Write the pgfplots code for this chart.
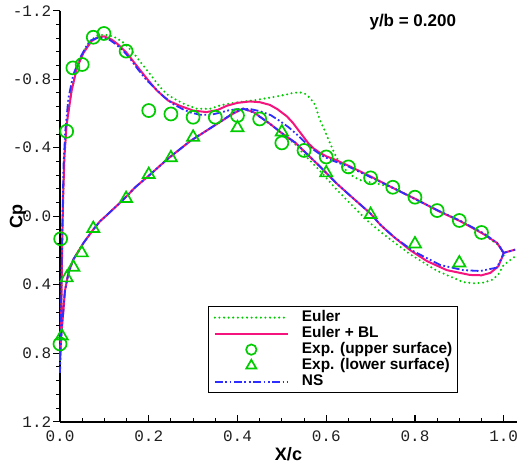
\documentclass[border=0pt]{standalone}
\usepackage{fontspec}
\setmainfont{Liberation Sans}
\newfontfamily\mono{Liberation Mono}
\usepackage{pgfplots}
\pgfplotsset{compat=1.18}
\definecolor{eg}{RGB}{0,204,0}
\definecolor{em}{RGB}{245,20,125}
\definecolor{eb}{RGB}{45,45,255}
\pgfplotsset{
  lineleg/.style={legend image code/.code={\draw[##1] (0pt,0pt) -- (73pt,0pt);}},
  circleg/.style={legend image code/.code={\draw[##1, mark size=5.2pt] plot coordinates {(36.5pt,0pt)};}},
  trileg/.style={legend image code/.code={\draw[##1, mark size=5.8pt] plot coordinates {(36.5pt,0pt)};}},
}
\begin{document}
\begin{tikzpicture}
\path[use as bounding box] (-60pt,-45.3pt) rectangle (459pt,421.7pt);
\begin{axis}[
  at={(0pt,0pt)}, anchor=south west,
  width=457pt, height=411pt, scale only axis,
  xmin=0, xmax=1.03, ymin=-1.2, ymax=1.2, y dir=reverse,
  clip=false,
  axis x line*=bottom, axis y line*=left,
  axis line style={line width=2.4pt, black, -},
  xtick={0,0.2,0.4,0.6,0.8,1.0}, xticklabels={0.0,0.2,0.4,0.6,0.8,1.0},
  ytick={-1.2,-0.8,-0.4,0,0.4,0.8,1.2}, yticklabels={-1.2,-0.8,-0.4,0.0,0.4,0.8,1.2},
  minor x tick num=3, minor y tick num=4,
  tick align=outside,
  major tick length=7pt, minor tick length=3.8pt,
  tick style={black, line width=1.3pt},
  minor tick style={line width=0.9pt},
  major x tick style={yshift=7pt},
  minor x tick style={yshift=3.8pt},
  ticklabel style={font=\mono\fontsize{16}{16}\selectfont, text=black!88, inner sep=1.5pt},
  xlabel={X/c}, ylabel={Cp},
  xlabel style={font=\bfseries\fontsize{18}{18}\selectfont, at={(axis description cs:0.5,0)}, anchor=base, yshift=-38.3pt},
  ylabel style={font=\bfseries\fontsize{18}{18}\selectfont, at={(axis description cs:-0.0919,0.5)}, anchor=center},
  legend style={at={(0.324,0.2815)}, anchor=north west, draw=black, line width=1.2pt,
    font=\bfseries\fontsize{15.4}{15.4}\selectfont, inner xsep=5pt, inner ysep=3pt,
    column sep=13pt, row sep=0pt,
    nodes={inner xsep=0pt, inner ysep=0pt, text height=11.5pt, text depth=4.5pt}},
  legend cell align=left,
]
\addplot[eg, line width=2.3pt, line cap=round, dash pattern=on 0pt off 4.6pt, lineleg] coordinates {
(1.0,0.23)(0.992,0.175)(0.97,0.136)(0.955,0.103)(0.90,0.025)(0.85,-0.035)(0.80,-0.10)(0.76,-0.155)(0.74,-0.175)(0.71,-0.193)(0.68,-0.208)(0.665,-0.225)(0.654,-0.245)(0.64,-0.28)(0.628,-0.32)(0.62,-0.36)(0.613,-0.40)(0.603,-0.46)(0.594,-0.516)(0.586,-0.56)(0.575,-0.65)(0.564,-0.69)(0.552,-0.715)(0.541,-0.723)(0.525,-0.72)(0.511,-0.711)(0.473,-0.692)(0.436,-0.676)(0.40,-0.665)(0.38,-0.657)(0.361,-0.647)(0.338,-0.627)(0.308,-0.628)(0.28,-0.655)(0.256,-0.688)(0.241,-0.712)(0.222,-0.765)(0.203,-0.83)(0.18,-0.905)(0.162,-0.965)(0.14,-1.02)(0.12,-1.05)(0.10,-1.06)(0.085,-1.055)(0.07,-1.03)(0.053,-0.96)(0.038,-0.87)(0.026,-0.735)(0.015,-0.54)(0.010,-0.35)(0.007,-0.1)(0.005,0.15)(0.0035,0.45)(0.002,0.68)(0.0,0.85)
(0.002,0.72)(0.0045,0.64)(0.0075,0.555)(0.011,0.438)(0.019,0.331)(0.030,0.253)(0.053,0.156)(0.075,0.078)(0.09,0.03)(0.105,-0.005)(0.14,-0.09)(0.17,-0.17)(0.203,-0.243)(0.241,-0.331)(0.293,-0.438)(0.346,-0.526)(0.391,-0.603)(0.413,-0.628)(0.436,-0.606)(0.473,-0.54)(0.50,-0.485)(0.53,-0.42)(0.556,-0.345)(0.586,-0.265)(0.62,-0.165)(0.65,-0.085)(0.692,0.025)(0.729,0.105)(0.789,0.222)(0.849,0.318)(0.909,0.385)(0.935,0.392)(0.955,0.388)(0.975,0.37)(0.988,0.34)(1.0,0.285)(1.026,0.234)
};
\addlegendentry{Euler}
\addplot[em, line width=2pt, lineleg] coordinates {
(1.0,0.214)(0.985,0.156)(0.955,0.105)(0.902,0.029)(0.853,-0.030)(0.804,-0.097)(0.752,-0.163)(0.70,-0.232)(0.65,-0.295)(0.62,-0.33)(0.60,-0.35)(0.586,-0.37)(0.572,-0.395)(0.56,-0.425)(0.541,-0.49)(0.525,-0.545)(0.511,-0.584)(0.49,-0.625)(0.473,-0.65)(0.45,-0.666)(0.428,-0.670)(0.40,-0.662)(0.376,-0.645)(0.355,-0.62)(0.33,-0.608)(0.30,-0.617)(0.27,-0.645)(0.244,-0.675)(0.218,-0.735)(0.20,-0.79)(0.18,-0.855)(0.15,-0.955)(0.13,-1.005)(0.116,-1.032)(0.10,-1.05)(0.085,-1.045)(0.071,-1.022)(0.053,-0.954)(0.038,-0.866)(0.026,-0.73)(0.015,-0.535)(0.010,-0.35)(0.007,-0.1)(0.005,0.15)(0.0035,0.45)(0.002,0.68)(0.0,0.84)
(0.002,0.72)(0.0045,0.64)(0.0075,0.555)(0.011,0.438)(0.019,0.331)(0.030,0.253)(0.053,0.156)(0.075,0.078)(0.09,0.03)(0.105,-0.005)(0.14,-0.09)(0.17,-0.17)(0.203,-0.243)(0.241,-0.331)(0.293,-0.438)(0.346,-0.526)(0.391,-0.600)(0.413,-0.628)(0.436,-0.608)(0.473,-0.54)(0.50,-0.485)(0.53,-0.43)(0.556,-0.365)(0.586,-0.29)(0.624,-0.19)(0.654,-0.12)(0.70,-0.015)(0.722,0.05)(0.752,0.12)(0.789,0.198)(0.827,0.262)(0.872,0.315)(0.924,0.343)(0.95,0.345)(0.970,0.331)(0.988,0.292)(0.996,0.243)(1.0,0.214)(1.026,0.195)
};
\addlegendentry{Euler + BL}
\addplot[eg, only marks, mark=o, mark size=6.5pt, mark options={line width=1.7pt}, circleg] coordinates {
(0.0,0.746)(0.0015,0.132)(0.015,-0.496)(0.029,-0.866)(0.050,-0.886)(0.075,-1.045)(0.099,-1.067)(0.149,-0.964)(0.20,-0.617)(0.25,-0.597)(0.30,-0.578)(0.35,-0.578)(0.40,-0.588)(0.45,-0.568)(0.50,-0.428)(0.55,-0.384)(0.60,-0.346)(0.65,-0.288)(0.70,-0.224)(0.75,-0.169)(0.80,-0.111)(0.85,-0.033)(0.90,0.025)(0.95,0.095)
};
\addlegendentry{Exp. (upper surface)}
\addplot[eg, only marks, mark=triangle, mark size=7pt, mark options={line width=1.7pt}, trileg] coordinates {
(0.004,0.70)(0.015,0.36)(0.03,0.298)(0.049,0.214)(0.075,0.072)(0.149,-0.103)(0.20,-0.243)(0.25,-0.341)(0.30,-0.461)(0.40,-0.516)(0.50,-0.492)(0.60,-0.253)(0.70,-0.01)(0.80,0.162)(0.90,0.273)
};
\addlegendentry{Exp. (lower surface)}
\addplot[eb, line width=1.8pt, dash pattern=on 8pt off 2.5pt on 1.8pt off 2.5pt on 1.8pt off 2.5pt, lineleg] coordinates {
(1.0,0.214)(0.985,0.156)(0.955,0.10)(0.90,0.024)(0.85,-0.036)(0.80,-0.10)(0.75,-0.166)(0.70,-0.228)(0.65,-0.29)(0.609,-0.33)(0.59,-0.355)(0.571,-0.389)(0.553,-0.43)(0.534,-0.477)(0.515,-0.52)(0.496,-0.555)(0.475,-0.59)(0.451,-0.613)(0.43,-0.625)(0.406,-0.627)(0.38,-0.618)(0.361,-0.605)(0.34,-0.592)(0.316,-0.592)(0.295,-0.605)(0.278,-0.623)(0.255,-0.655)(0.233,-0.70)(0.215,-0.745)(0.195,-0.795)(0.175,-0.86)(0.158,-0.92)(0.143,-0.965)(0.128,-1.0)(0.113,-1.028)(0.098,-1.041)(0.083,-1.04)(0.068,-1.025)(0.06,-0.995)(0.045,-0.924)(0.030,-0.827)(0.019,-0.69)(0.012,-0.5)(0.008,-0.3)(0.006,-0.05)(0.004,0.25)(0.0025,0.5)(0.0012,0.72)(0.0,0.915)
(0.0012,0.8)(0.003,0.7)(0.0045,0.64)(0.0075,0.555)(0.011,0.438)(0.019,0.331)(0.030,0.253)(0.053,0.156)(0.075,0.078)(0.09,0.03)(0.105,-0.005)(0.14,-0.09)(0.17,-0.17)(0.203,-0.243)(0.241,-0.331)(0.293,-0.438)(0.346,-0.526)(0.391,-0.603)(0.413,-0.628)(0.436,-0.606)(0.473,-0.54)(0.50,-0.485)(0.53,-0.43)(0.556,-0.365)(0.586,-0.29)(0.624,-0.19)(0.654,-0.12)(0.70,-0.015)(0.722,0.05)(0.752,0.12)(0.797,0.205)(0.857,0.285)(0.909,0.315)(0.947,0.32)(0.985,0.30)(0.996,0.24)(1.0,0.214)(1.026,0.195)
};
\addlegendentry{NS}
\node[anchor=base, font=\bfseries\fontsize{17}{17}\selectfont] at (axis description cs:0.772,0.961) {y/b = 0.200};
\end{axis}
\end{tikzpicture}
\end{document}
